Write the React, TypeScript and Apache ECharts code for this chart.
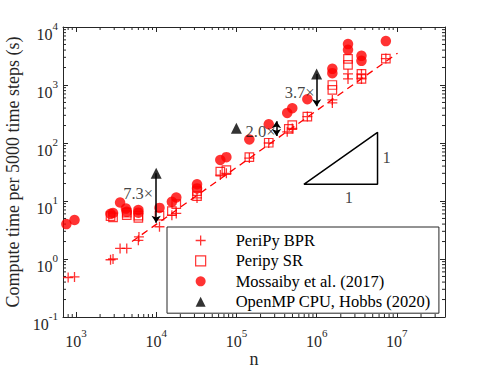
import React, { useEffect, useRef } from 'react';
import * as echarts from 'echarts';

const FONT = "'Liberation Serif', 'Times New Roman', Times, serif";
const RED = '#ff0000';
const INK = '#262626';

const X_MIN = 690;
const X_MAX = 39800000;
const Y_MIN = 0.1;
const Y_MAX = 10000;

// PeriPy BPR
const BPR_N = [800, 960, 2700, 2900, 3550, 4300, 6000, 6100, 11000, 15700, 17800, 32300, 63000, 75000, 145000, 253000, 430000, 497000, 766000, 1570000, 1570000, 2460000, 2460000, 3620000, 3620000, 7290000];
const BPR_T = [0.48, 0.49, 0.97, 1.0, 1.52, 1.52, 2.1, 2.4, 3.6, 5.7, 6.1, 11.3, 28, 30, 55, 100, 156, 178, 285, 553, 491, 1555, 1275, 1555, 1275, 2860];
// Peripy SR
const SR_N = [2700, 2900, 4300, 4300, 6000, 6000, 11000, 15700, 17800, 32300, 32300, 63000, 75000, 145000, 253000, 450000, 497000, 766000, 1570000, 1570000, 2460000, 2460000, 3620000, 3620000, 7290000];
const SR_T = [5.5, 5.2, 5.7, 6.3, 5.1, 5.6, 5.6, 6.7, 8.8, 12.1, 14.8, 32, 34, 57, 101, 175, 204, 285, 1000, 822, 2820, 2220, 1555, 1275, 2860];
// Mossaiby et al. (2017)
const MOS_N = [760, 960, 2700, 2900, 3550, 4200, 4300, 6000, 6000, 11000, 15700, 17800, 32300, 32300, 63000, 75000, 145000, 253000, 430000, 497000, 766000, 1570000, 1570000, 2460000, 2460000, 3620000, 3620000, 7290000];
const MOS_T = [4.0, 4.7, 6.0, 6.2, 9.4, 7.4, 6.5, 7.0, 6.3, 7.6, 9.7, 11.5, 19.4, 16.5, 51, 57, 115, 210, 330, 398, 569, 1900, 1600, 5070, 4040, 3180, 2610, 5710];
// OpenMP CPU, Hobbs (2020)
const OMP_N = [10000, 100000, 1000000];
const OMP_T = [30, 180, 1550];

// dashed fit line for BPR
const FIT_N = [5000, 10200000];
const FIT_T = [2.0, 3540];

// slope triangle
const TRI_N = [693000, 5740000, 5740000, 693000];
const TRI_T = [19.4, 19.4, 153, 19.4];

// speed-up arrows
const ARROW_N = [10000, 316000, 1000000];
const ARROW_TOP = [30, 236, 1550];
const ARROW_BOTTOM = [4.2, 132, 430];
const ARROW_TOP_HEAD = ['none', 'arrow', 'none'];

// annotation texts
const NOTE_TEXT = ['7.3×', '2.0×', '3.7×', '1', '1'];
const NOTE_N = [10000, 316000, 1000000, 5740000, 2530000];
const NOTE_T = [13.7, 161, 739, 56, 19.4];
const NOTE_POS = ['left', 'left', 'left', 'right', 'bottom'];
const NOTE_DIST = [3, 1, 2, 5, 5];

// minor tick positions (axis furniture)
const X_MINOR = [700, 800, 900, 2000, 3000, 4000, 5000, 6000, 7000, 8000, 9000, 20000, 30000, 40000, 50000, 60000, 70000, 80000, 90000, 200000, 300000, 400000, 500000, 600000, 700000, 800000, 900000, 2000000, 3000000, 4000000, 5000000, 6000000, 7000000, 8000000, 9000000, 20000000, 30000000];
const Y_MINOR = [0.2, 0.3, 0.4, 0.5, 0.6, 0.7, 0.8, 0.9, 2, 3, 4, 5, 6, 7, 8, 9, 20, 30, 40, 50, 60, 70, 80, 90, 200, 300, 400, 500, 600, 700, 800, 900, 2000, 3000, 4000, 5000, 6000, 7000, 8000, 9000];

const LEGEND_NAMES = ['PeriPy BPR', 'Peripy SR', 'Mossaiby et al. (2017)', 'OpenMP CPU, Hobbs (2020)'];

const pairs = (a: number[], b: number[]) => a.map((v, i) => [v, b[i]]);

const powFormatter = (v: number) => {
  const e = Math.log10(v);
  const r = Math.round(e);
  if (Math.abs(e - r) > 1e-6) return '';
  return `{b|10}{e|${r}}`;
};

const rich = {
  b: { fontFamily: FONT, fontSize: 16, color: INK, lineHeight: 22, verticalAlign: 'bottom' },
  e: { fontFamily: FONT, fontSize: 11, color: INK, lineHeight: 8, verticalAlign: 'top' },
};

const axisLine = { show: true, lineStyle: { color: INK, width: 1 } };
const axisTick = { show: true, inside: true, length: 5, interval: 0, lineStyle: { color: INK, width: 1 } };

export default function App() {
  const ref = useRef<HTMLDivElement>(null);
  useEffect(() => {
    document.body.style.margin = '0';
    const chart = echarts.init(ref.current!, null, { renderer: 'svg' });
    const option: any = {
      animation: false,
      backgroundColor: '#fff',
      textStyle: { fontFamily: FONT },
      grid: { left: 63, right: 46, top: 27, bottom: 51, containLabel: false, outerBoundsMode: 'none' },
      xAxis: [
        {
          type: 'log', logBase: 10, min: X_MIN, max: X_MAX, position: 'bottom',
          name: 'n', nameLocation: 'middle', nameGap: 33, nameMoveOverlap: false,
          nameTextStyle: { fontFamily: FONT, fontSize: 18, color: INK, lineHeight: 18 },
          axisLine, axisTick,
          minorTick: { show: false }, splitLine: { show: false },
          axisLabel: { interval: 0, margin: 10, formatter: powFormatter, rich, color: INK },
        },
        {
          type: 'log', logBase: 10, min: X_MIN, max: X_MAX, position: 'top',
          axisLine, axisTick, axisLabel: { show: false }, splitLine: { show: false },
        },
      ],
      yAxis: [
        {
          type: 'log', logBase: 10, min: Y_MIN, max: Y_MAX, position: 'left',
          name: 'Compute time per 5000 time steps (s)', nameLocation: 'middle', nameGap: 37,
          nameTextStyle: { fontFamily: FONT, fontSize: 18, color: INK },
          axisLine, axisTick,
          minorTick: { show: false }, splitLine: { show: false },
          axisLabel: { interval: 0, margin: 5, formatter: powFormatter, rich, color: INK, padding: [8, 0, 0, 0] },
        },
        {
          type: 'log', logBase: 10, min: Y_MIN, max: Y_MAX, position: 'right',
          axisLine, axisTick, axisLabel: { show: false }, splitLine: { show: false },
        },
      ],
      legend: {
        data: LEGEND_NAMES,
        orient: 'vertical',
        left: 167, top: 227,
        padding: [5, 8, 3, 28],
        itemWidth: 10, itemHeight: 10, itemGap: 3.4,
        symbolKeepAspect: true,
        backgroundColor: '#fff',
        borderColor: INK, borderWidth: 1, borderRadius: 0,
        textStyle: { fontFamily: FONT, fontSize: 16.5, color: '#000', lineHeight: 16, padding: [0, 0, 0, 25] },
        itemStyle: { borderWidth: 'inherit' },
      },
      series: [
        {
          type: 'custom', silent: true, clip: false, z: 3,
          data: X_MINOR.map((v) => [v, Y_MIN]),
          renderItem: (_p: any, api: any) => {
            const v = api.value(0);
            const b = api.coord([v, Y_MIN]);
            const t = api.coord([v, Y_MAX]);
            return {
              type: 'group',
              children: [
                { type: 'line', shape: { x1: b[0], y1: b[1], x2: b[0], y2: b[1] - 3 }, style: { stroke: INK, lineWidth: 1 } },
                { type: 'line', shape: { x1: t[0], y1: t[1], x2: t[0], y2: t[1] + 3 }, style: { stroke: INK, lineWidth: 1 } },
              ],
            };
          },
        },
        {
          type: 'custom', silent: true, clip: false, z: 3,
          data: Y_MINOR.map((v) => [X_MIN, v]),
          renderItem: (_p: any, api: any) => {
            const v = api.value(1);
            const l = api.coord([X_MIN, v]);
            const r = api.coord([X_MAX, v]);
            return {
              type: 'group',
              children: [
                { type: 'line', shape: { x1: l[0], y1: l[1], x2: l[0] + 3, y2: l[1] }, style: { stroke: INK, lineWidth: 1 } },
                { type: 'line', shape: { x1: r[0], y1: r[1], x2: r[0] - 3, y2: r[1] }, style: { stroke: INK, lineWidth: 1 } },
              ],
            };
          },
        },
        {
          name: 'fit', type: 'line', data: pairs(FIT_N, FIT_T), symbol: 'none', silent: true,
          lineStyle: { color: RED, width: 1.3, type: [7, 5] }, z: 2,
        },
        {
          name: 'slope', type: 'line', data: pairs(TRI_N, TRI_T), symbol: 'none', silent: true,
          lineStyle: { color: '#000', width: 1.5 }, z: 2,
        },
        {
          name: LEGEND_NAMES[0], type: 'scatter', data: pairs(BPR_N, BPR_T),
          symbol: 'path://M0 5H10M5 0V10', symbolSize: 10,
          itemStyle: { color: RED, borderColor: RED, borderWidth: 1.3 }, z: 4,
        },
        {
          name: LEGEND_NAMES[1], type: 'scatter', data: pairs(SR_N, SR_T),
          symbol: 'rect', symbolSize: 8.5,
          itemStyle: { color: 'rgba(255,255,255,0)', borderColor: RED, borderWidth: 1.2 }, z: 4,
        },
        {
          name: LEGEND_NAMES[2], type: 'scatter', data: pairs(MOS_N, MOS_T),
          symbol: 'circle', symbolSize: 10.5,
          itemStyle: { color: RED, borderColor: RED, borderWidth: 0 }, z: 4,
        },
        {
          name: LEGEND_NAMES[3], type: 'scatter', data: pairs(OMP_N, OMP_T),
          symbol: 'triangle', symbolSize: 11,
          itemStyle: { color: '#000', borderColor: '#000', borderWidth: 0 }, z: 6,
          markLine: {
            silent: true, symbolSize: 7, animation: false,
            label: { show: false },
            lineStyle: { color: '#000', width: 1.5, type: 'solid' },
            data: ARROW_N.map((n, i) => [
              { coord: [n, ARROW_TOP[i]], symbol: ARROW_TOP_HEAD[i] },
              { coord: [n, ARROW_BOTTOM[i]], symbol: 'arrow' },
            ]),
          },
        },
        {
          name: 'notes', type: 'scatter', symbolSize: 0, silent: true, z: 7,
          data: NOTE_TEXT.map((txt, i) => ({
            name: txt,
            value: [NOTE_N[i], NOTE_T[i]],
            label: { show: true, position: NOTE_POS[i], distance: NOTE_DIST[i] },
          })),
          label: {
            show: true, formatter: (p: any) => p.name,
            fontFamily: FONT, fontSize: 16.5, color: '#111',
          },
        },
      ],
    };
    chart.setOption(option);
    return () => chart.dispose();
  }, []);
  return <div ref={ref} style={{ width: 491, height: 368 }} />;
}
